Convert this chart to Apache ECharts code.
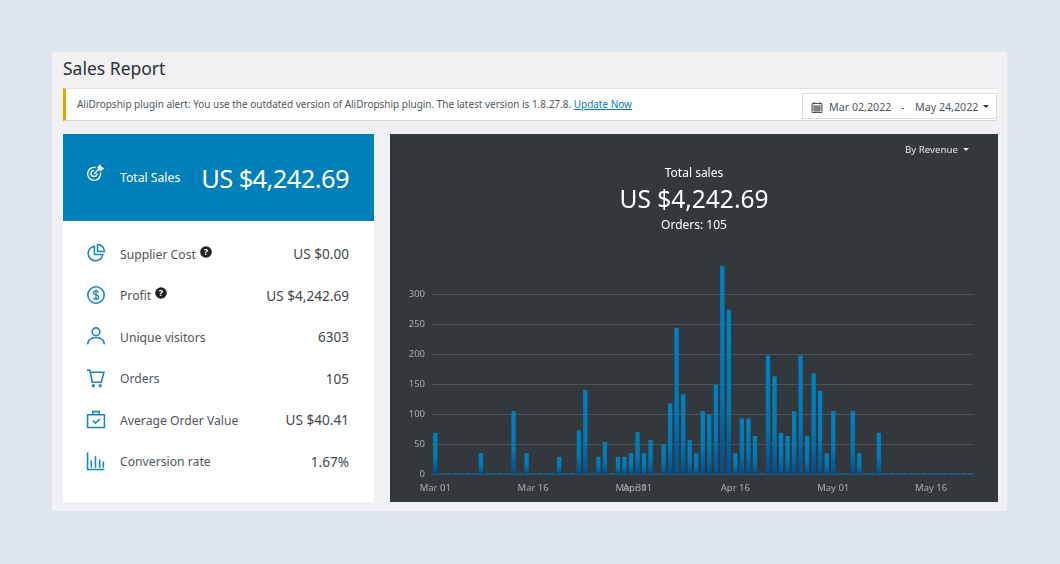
<!DOCTYPE html>
<html>
<head>
<meta charset="utf-8">
<title>Sales Report</title>
<script src="https://cdn.jsdelivr.net/npm/echarts@6/dist/echarts.min.js"></script>
<style>
  html, body { margin: 0; padding: 0; }
  body { width: 1060px; height: 564px; background: #dfe5ed; overflow: hidden; position: relative;
         font-family: "Noto Sans", "Open Sans", sans-serif; color: #44474a; }
  div, a, span { position: absolute; white-space: nowrap; }
  .page { left: 52px; top: 52px; width: 955px; height: 459px; background: #f1f1f4; }
  .heading { left: 63px; top: 54px; font-size: 17.5px; line-height: 28px; color: #2c3033; }
  .alert { left: 63px; top: 88px; width: 931px; height: 31px; background: #fff; border-left: 3px solid #e0a800;
           border-bottom: 1px solid #d8d8dc; border-top: 1px solid #e2e2e6; box-sizing: content-box; }
  .alert-text { left: 77px; top: 97px; font-size: 9.97px; line-height: 14px; color: #50575c; }
  .alert-text a { position: static; color: #0a7cb5; }
  .range { left: 802px; top: 93px; width: 195px; height: 26px; background: #fff; border: 1px solid #dcdcdf; box-sizing: border-box; }
  .range span { top: 0; line-height: 27px; font-size: 10.7px; color: #50575c; }
  .side { left: 63px; top: 134px; width: 311px; height: 368px; background: #fff; }
  .total { left: 0; top: 0; width: 311px; height: 87px; background: #0080bb; color: #fff; }
  .total .label { left: 57px; top: 34px; font-size: 12.2px; line-height: 20px; }
  .total .value { right: 25px; top: 24px; font-size: 25.5px; line-height: 40px; letter-spacing: -0.6px; }
  .row-label { left: 57px; font-size: 12.2px; line-height: 20px; color: #50555a; }
  .row-value { font-size: 13.6px; line-height: 20px; color: #44474a; }
  #chart { left: 390px; top: 134px; width: 608px; height: 368px; background: #33383c; }
  .by { left: 905px; top: 142px; font-size: 9.7px; line-height: 16px; color: #e6e7e8; }
  .caret { width: 0; height: 0; border-left: 3px solid transparent; border-right: 3px solid transparent; border-top: 3px solid #333; }
</style>
</head>
<body>
<div class="page"></div>
<div class="heading">Sales Report</div>
<div class="alert"></div>
<div class="alert-text">AliDropship plugin alert: You use the outdated version of AliDropship plugin. The latest version is 1.8.27.8. <a href="#">Update Now</a></div>
<div class="range">
  <svg style="position:absolute;left:8px;top:7px" width="12" height="12" viewBox="0 0 12 12"><path d="M1 2.500h10v9H1z M1 5h10 M4 5v6.500 M6 5v6.500 M8 5v6.500 M1 7h10 M1 9h10 M3.200 1v2.500 M8.800 1v2.500" fill="none" stroke="#555" stroke-width="1"/></svg>
  <span style="left:26px">Mar 02,2022</span>
  <span style="left:98px">-</span>
  <span style="left:112px">May 24,2022</span>
  <div class="caret" style="left:180px;top:11px"></div>
</div>
<div class="side">
  <div class="total">
    <svg style="position:absolute;left:23px;top:30px" width="19" height="19" viewBox="0 0 19 19" fill="none" stroke="#fff" stroke-width="1.4"><path d="M14.500 8.500a6.500 6.500 0 1 1-5-5"/><path d="M11 9.500a3 3 0 1 1-3-3"/><path d="M8 10l6-6"/><path d="M12 3.500l2-2 1 2 2 1-2 2-2-1z" fill="#fff"/></svg>
    <div class="label">Total Sales</div>
    <div class="value">US $4,242.69</div>
  </div>
  <div id="rows"></div>
</div>
<div id="chart"></div>
<div class="by">By Revenue</div>
<div class="caret" style="left:963px;top:148px;border-top-color:#e6e7e8"></div>
<script>
// report figures
var metricLabels = ['Supplier Cost', 'Profit', 'Unique visitors', 'Orders', 'Average Order Value', 'Conversion rate'];
var metricValues = ['US $0.00', 'US $4,242.69', '6303', '105', 'US $40.41', '1.67%'];
var helpAfter = { 0: 77, 1: 32 };

// chart data, one value per day from Mar 01
var days = [
  'Mar 01','Mar 02','Mar 03','Mar 04','Mar 05','Mar 06','Mar 07','Mar 08','Mar 09','Mar 10','Mar 11','Mar 12','Mar 13','Mar 14','Mar 15','Mar 16',
  'Mar 17','Mar 18','Mar 19','Mar 20','Mar 21','Mar 22','Mar 23','Mar 24','Mar 25','Mar 26','Mar 27','Mar 28','Mar 29','Mar 30','Mar 31',
  'Apr 01','Apr 02','Apr 03','Apr 04','Apr 05','Apr 06','Apr 07','Apr 08','Apr 09','Apr 10','Apr 11','Apr 12','Apr 13','Apr 14','Apr 15','Apr 16',
  'Apr 17','Apr 18','Apr 19','Apr 20','Apr 21','Apr 22','Apr 23','Apr 24','Apr 25','Apr 26','Apr 27','Apr 28','Apr 29','Apr 30',
  'May 01','May 02','May 03','May 04','May 05','May 06','May 07','May 08','May 09','May 10','May 11','May 12','May 13','May 14','May 15','May 16',
  'May 17','May 18','May 19','May 20','May 21','May 22'
];
var revenue = [
  69,0,0,0,0,0,0,35,0,0,0,0,105,0,35,0,
  0,0,0,29,0,0,73,140,0,29,54,0,29,29,35,
  70,35,57,0,50,118,244,133,57,35,105,99,149,347,274,35,
  93,93,64,0,198,163,69,64,105,198,64,168,139,35,
  105,0,0,105,35,0,0,69,0,0,0,0,0,0,0,0,
  0,0,0,0,0,0
];
var tickDays = ['Mar 01', 'Mar 16', 'Mar 31', 'Apr 01', 'Apr 16', 'May 01', 'May 16'];

var icons = [
  '<path d="M8 3a7 7 0 1 0 8 8H8z"/><path d="M11 1.500v6.500h6.500a6.500 6.500 0 0 0-6.500-6.500z"/>',
  '<circle cx="9.500" cy="9.500" r="7.800"/><path d="M12 7c-.5-1-1.400-1.400-2.500-1.400-1.300 0-2.400.7-2.400 1.900 0 2.600 5 1.300 5 4 0 1.200-1.100 1.900-2.600 1.900-1.100 0-2-.5-2.500-1.400M9.500 4.200v10.600" stroke-width="1.200"/>',
  '<circle cx="9.500" cy="5.500" r="3.700"/><path d="M1.500 17.500c.5-4.500 3.500-6.500 8-6.500s7.500 2 8 6.500"/>',
  '<path d="M1 2h2.500l2.500 11.500h8.500l2.500-9.500H4"/><circle cx="7" cy="16.800" r=".8"/><circle cx="13.500" cy="16.800" r=".8"/>',
  '<path d="M1.500 5.500h16v12h-16z"/><path d="M6.500 5.500V2.500h6v3"/><path d="M6.500 11l2.500 2.500 4-4"/>',
  '<path d="M1.500 1.500v16h16"/><path d="M5 16V9M9 16V5M13 16V8M16.500 16V10"/>'
];

var rows = document.getElementById('rows');
var rowTop = [110, 151.5, 193, 234.5, 276, 317.5];
metricLabels.forEach(function (label, i) {
  var y = rowTop[i];
  var html = '<svg style="position:absolute;left:23px;top:' + (y - 1) + 'px" width="20" height="20" viewBox="0 0 19 19" fill="none" stroke="#1a86bd" stroke-width="1.5">' + icons[i] + '</svg>' +
    '<div class="row-label" style="top:' + Math.ceil(y + 0.5) + 'px">' + label + '</div>' +
    '<div class="row-value" style="top:' + y + 'px;left:0;width:286px;text-align:right">' + metricValues[i] + '</div>';
  if (helpAfter[i]) {
    html += '<svg style="position:absolute;left:' + (57 + helpAfter[i] + 3) + 'px;top:' + (y + 1.5) + 'px" width="12" height="12" viewBox="0 0 12 12"><circle cx="6" cy="6" r="5.800" fill="#222"/><text x="6" y="9.300" font-size="9" font-weight="700" text-anchor="middle" fill="#fff" font-family="Noto Sans">?</text></svg>';
  }
  rows.insertAdjacentHTML('beforeend', html);
});

var showDay = function (index) {
  return tickDays.indexOf(days[index]) >= 0;
};

var chart = echarts.init(document.getElementById('chart'));
chart.setOption({
  animation: false,
  backgroundColor: '#33383c',
  title: [
    { text: 'Total sales', left: 304, top: 34, padding: 0, textAlign: 'center', textStyle: { color: '#fff', fontSize: 12, fontWeight: 'normal', fontFamily: 'Noto Sans' } },
    { text: 'US $4,242.69', left: 304, top: 55, padding: 0, textAlign: 'center', textStyle: { color: '#fff', fontSize: 24.5, fontWeight: 'normal', fontFamily: 'Noto Sans' } },
    { text: 'Orders: 105', left: 304, top: 86, padding: 0, textAlign: 'center', textStyle: { color: '#fff', fontSize: 12, fontWeight: 'normal', fontFamily: 'Noto Sans' } }
  ],
  grid: { left: 42, right: 24.5, top: 130, bottom: 27.7 },
  xAxis: {
    type: 'category',
    data: days,
    axisLine: { lineStyle: { color: '#2f5a78', width: 1 } },
    axisTick: { alignWithLabel: true, length: 6, interval: showDay, lineStyle: { color: '#b5b8ba' } },
    axisLabel: { interval: showDay, color: '#a9acae', fontSize: 9.5, margin: 9, fontFamily: 'Noto Sans', hideOverlap: false }
  },
  yAxis: {
    type: 'value',
    min: 0,
    max: 350,
    interval: 50,
    axisLine: { show: false },
    axisTick: { show: false },
    axisLabel: { color: '#a9acae', fontSize: 9.5, margin: 7, padding: [2, 0, 0, 0], fontFamily: 'Noto Sans', showMaxLabel: false },
    splitLine: { showMaxLine: false, lineStyle: { color: '#4d5256', width: 1 } }
  },
  series: [{
    type: 'bar',
    data: revenue,
    barWidth: 4.3,
    barMinHeight: 1,
    itemStyle: {
      color: new echarts.graphic.LinearGradient(0, 0, 0, 1, [
        { offset: 0, color: '#0082c0' },
        { offset: 0.6, color: '#0078b5' },
        { offset: 1, color: '#004f8c' }
      ])
    }
  }]
});
</script>
</body>
</html>
